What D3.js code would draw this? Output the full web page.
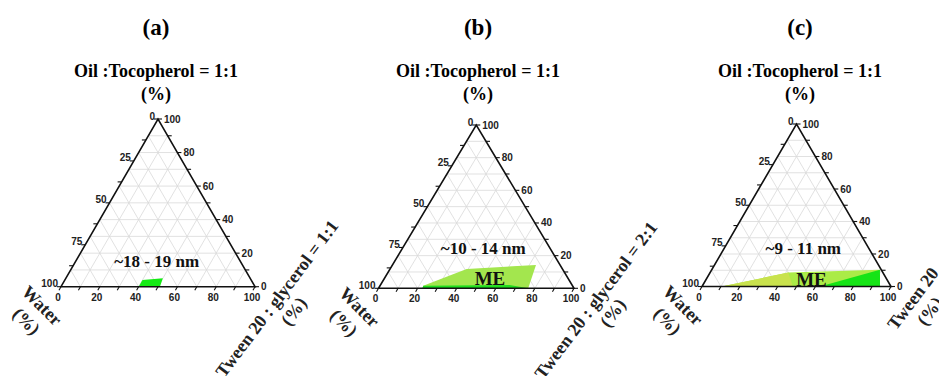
<!DOCTYPE html>
<html>
<head>
<meta charset="utf-8">
<script src="https://cdn.jsdelivr.net/npm/d3@7"></script>
<style>
  body { margin: 0; background: #fff; }
  svg { display: block; }
</style>
</head>
<body>
<svg id="chart"></svg>
<script>
// chart data
const panelLetters = ['(a)', '(b)', '(c)'];
const apexTitle = 'Oil :Tocopherol = 1:1';
const leftTitle = 'Water';
const rightTitles = ['Tween 20 : glycerol = 1:1', 'Tween 20 : glycerol = 2:1', 'Tween 20'];
const sizeLabels = ['~18 - 19 nm', '~10 - 14 nm', '~9 - 11 nm'];
const regionLabels = ['', 'ME', 'ME'];
const bottomTicks = [0, 10, 20, 30, 40, 50, 60, 70, 80, 90, 100];
const bottomTickLabels = [0, 20, 40, 60, 80, 100];
const rightTicks = [0, 10, 20, 30, 40, 50, 60, 70, 80, 90, 100];
const rightTickLabels = [0, 20, 40, 60, 80, 100];
const leftTicks = [0, 12.5, 25, 37.5, 50, 62.5, 75, 87.5, 100];
const leftTickLabels = [0, 25, 50, 75, 100];
const gridSteps = [10, 20, 30, 40, 50, 60, 70, 80, 90];

// microemulsion regions, points are [tween %, oil %]
const regionsA = [
  [[40, 0], [40, 4], [50, 5], [51, 0]]
];
const regionsB = [
  [[22.5, 0], [22.1, 1.6], [39.2, 11.8], [73.4, 14.3], [76.6, 0]],
  [[22.5, 0], [22.1, 1.6], [66, 2], [76.6, 0]]
];
const regionsC = [
  [[10.4, 0], [41.4, 8.6], [89, 10.3], [94.2, 0]],
  [[10.4, 0], [41.4, 8.6], [48, 0]],
  [[62.4, 0], [89, 10.3], [94.2, 0]]
];
const regions = [regionsA, regionsB, regionsC];

// layout + styles
const W = 939, H = 376;
const frames = [
  { left: 61, right: 255, bottom: 286.7, top: 119, cx: 156, size: [49.3, 14.9], me: null },
  { left: 378.5, right: 574, bottom: 288.3, top: 125, cx: 478, size: [53.6, 24.5], me: [57, 6.1] },
  { left: 702, right: 891, bottom: 286.5, top: 124, cx: 800, size: [53.6, 23.3], me: [57.9, 4.5] }
];
const regionFills = [
  ['#14ea14'],
  ['#a3e64e', '#1ede1e'],
  ['#abeb47', '#c9e24d', '#16e416']
];
const serif = '"Liberation Serif", "Times New Roman", serif';
const sans = '"Liberation Sans", Arial, sans-serif';

const svg = d3.select('#chart')
  .attr('width', W)
  .attr('height', H)
  .style('font-family', serif);

frames.forEach((f, i) => {
  const x = d3.scaleLinear().domain([0, 100]).range([f.left, f.right]);
  const y = d3.scaleLinear().domain([0, 100]).range([f.bottom, f.top]);
  // ternary point: tween t, oil o
  const px = (t, o) => x(t + o / 2);
  const py = (t, o) => y(o);
  const line = d3.line().x(d => px(d[0], d[1])).y(d => py(d[0], d[1]));

  const g = svg.append('g');

  // titles
  g.append('text')
    .attr('x', f.cx).attr('y', 35)
    .attr('text-anchor', 'middle')
    .style('font-size', '23px').style('font-weight', 'bold')
    .text(panelLetters[i]);
  g.append('text')
    .attr('x', f.cx).attr('y', 77)
    .attr('text-anchor', 'middle')
    .style('font-size', '18px').style('font-weight', 'bold')
    .text(apexTitle);
  g.append('text')
    .attr('x', f.cx).attr('y', 100)
    .attr('text-anchor', 'middle')
    .style('font-size', '18px').style('font-weight', 'bold')
    .text('(%)');

  // grid
  const grid = g.append('g')
    .attr('fill', 'none')
    .attr('stroke', '#d9d9d9')
    .attr('stroke-width', 0.8);
  gridSteps.forEach(k => {
    grid.append('path').attr('d', line([[0, k], [100 - k, k]]));
    grid.append('path').attr('d', line([[k, 0], [k, 100 - k]]));
    grid.append('path').attr('d', line([[100 - k, 0], [0, 100 - k]]));
  });

  // regions
  regions[i].forEach((poly, j) => {
    g.append('path')
      .attr('d', line(poly) + 'Z')
      .attr('fill', regionFills[i][j])
      .attr('stroke', 'none');
  });

  // frame
  g.append('path')
    .attr('d', line([[0, 0], [100, 0], [0, 100]]) + 'Z')
    .attr('fill', 'none')
    .attr('stroke', '#111')
    .attr('stroke-width', 1.6)
    .attr('stroke-linejoin', 'miter');

  const ticks = g.append('g').attr('stroke', '#111').attr('stroke-width', 1.1);
  const labels = g.append('g')
    .style('font-family', sans)
    .style('font-size', '10px')
    .style('font-weight', 'bold')
    .attr('fill', '#222');

  // bottom axis (tween)
  bottomTicks.forEach(t => {
    ticks.append('line')
      .attr('x1', px(t, 0)).attr('y1', py(t, 0))
      .attr('x2', px(t, 0) - 2).attr('y2', py(t, 0) + 3.5);
  });
  bottomTickLabels.forEach(t => {
    labels.append('text')
      .attr('x', px(t, 0) - 3).attr('y', py(t, 0) + 14)
      .attr('text-anchor', 'middle')
      .text(t);
  });

  // right axis (oil)
  rightTicks.forEach(o => {
    ticks.append('line')
      .attr('x1', px(100 - o, o)).attr('y1', py(100 - o, o))
      .attr('x2', px(100 - o, o) + 4).attr('y2', py(100 - o, o));
  });
  rightTickLabels.forEach(o => {
    labels.append('text')
      .attr('x', px(100 - o, o) + 6).attr('y', py(100 - o, o) + 3.5)
      .text(o);
  });

  // left axis (water, 0 at apex)
  leftTicks.forEach(w => {
    const o = 100 - w;
    ticks.append('line')
      .attr('x1', px(0, o)).attr('y1', py(0, o))
      .attr('x2', px(0, o) - 4).attr('y2', py(0, o));
  });
  leftTickLabels.forEach(w => {
    const o = 100 - w;
    labels.append('text')
      .attr('x', px(0, o) - 3).attr('y', py(0, o) + 0.5)
      .attr('text-anchor', 'end')
      .text(w);
  });

  // size annotation
  g.append('text')
    .attr('x', x(f.size[0])).attr('y', y(f.size[1]))
    .attr('text-anchor', 'middle')
    .attr('dominant-baseline', 'central')
    .style('font-size', '17px').style('font-weight', 'bold')
    .attr('fill', '#111')
    .text(sizeLabels[i]);

  if (f.me) {
    g.append('text')
      .attr('x', x(f.me[0])).attr('y', y(f.me[1]))
      .attr('text-anchor', 'middle')
      .attr('dominant-baseline', 'central')
      .style('font-size', '19px').style('font-weight', 'bold')
      .attr('fill', '#111')
      .text(regionLabels[i]);
  }

  // rotated corner titles
  const wl = g.append('g')
    .attr('transform', `translate(${f.left - 19},${f.bottom + 19}) rotate(45)`)
    .style('font-size', '18px').style('font-weight', 'bold')
    .attr('fill', '#222')
    .attr('text-anchor', 'middle');
  wl.append('text').attr('dominant-baseline', 'central').text(leftTitle);
  wl.append('text').attr('y', 22).attr('dominant-baseline', 'central').text('(%)');

  const tl = g.append('g')
    .attr('transform', `translate(${f.right + 22},${f.bottom + 12}) rotate(-53)`)
    .style('font-size', '18px').style('font-weight', 'bold')
    .attr('fill', '#222')
    .attr('text-anchor', 'middle');
  tl.append('text').attr('dominant-baseline', 'central').text(rightTitles[i]);
  tl.append('text').attr('y', 21).attr('dominant-baseline', 'central').text('(%)');
});
</script>
</body>
</html>
